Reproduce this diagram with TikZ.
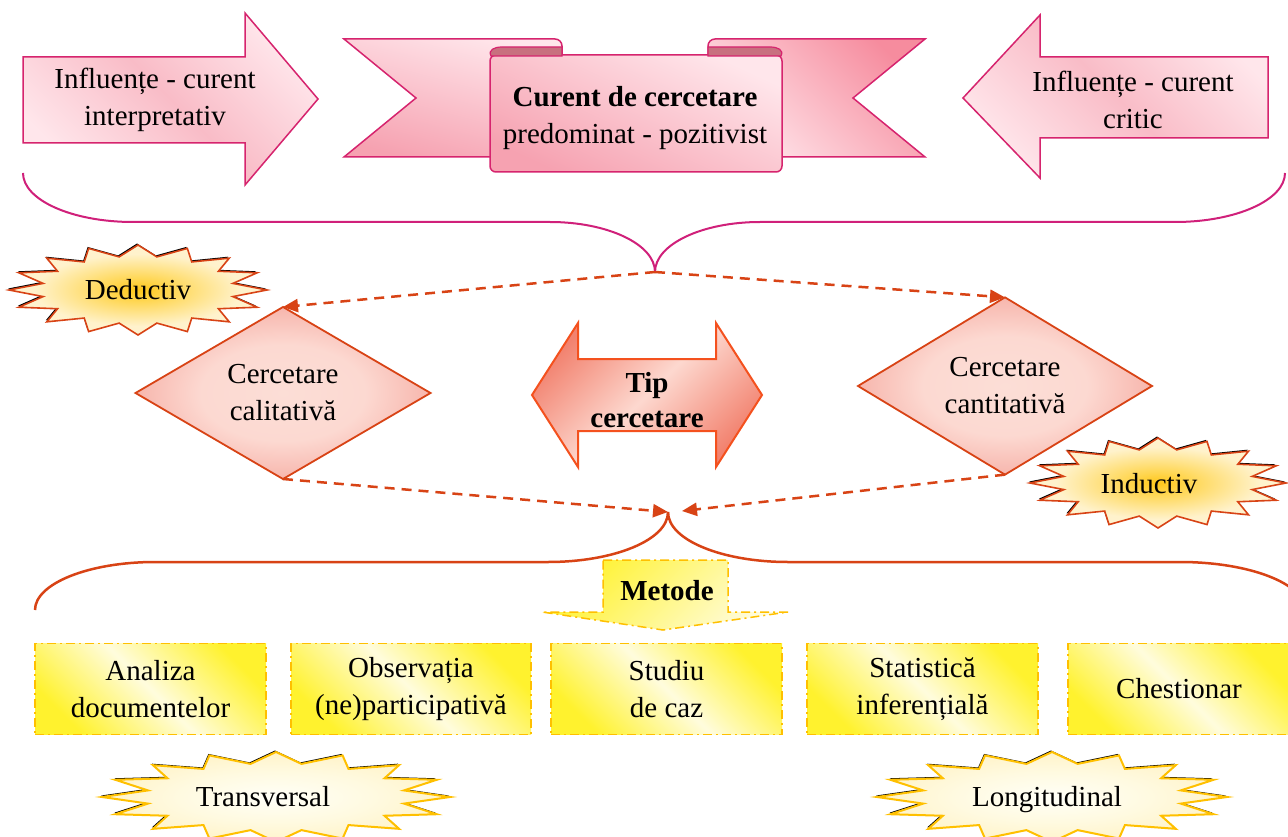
\documentclass[tikz,border=0pt]{standalone}
\usepackage{fontspec}
\setmainfont{Liberation Serif}
\usetikzlibrary{arrows.meta,shapes.geometric}

\definecolor{pinkB}{HTML}{D6246E}
\definecolor{pinkL}{HTML}{FFE6EB}
\definecolor{pinkM}{HTML}{F9BCC7}
\definecolor{pinkD}{HTML}{F6A2B1}
\definecolor{pinkDD}{HTML}{F68C9E}
\definecolor{rollc}{HTML}{C8707F}
\definecolor{braceP}{HTML}{D0207A}
\definecolor{redB}{HTML}{D84315}
\definecolor{orB}{HTML}{F4511E}
\definecolor{orD}{HTML}{F2826F}
\definecolor{salL}{HTML}{FDD8CF}
\definecolor{amber}{HTML}{FFC000}
\definecolor{yelS}{HTML}{FFF22E}
\definecolor{yelL}{HTML}{FFFCDD}

\pgfdeclareradialshading{diash}{\pgfpoint{0bp}{0bp}}{rgb(0bp)=(0.99,0.87,0.84); rgb(14bp)=(0.99,0.85,0.82); rgb(34bp)=(0.95,0.60,0.56); rgb(50bp)=(0.95,0.60,0.56)}
\pgfdeclareradialshading{starA}{\pgfpoint{0bp}{0bp}}{rgb(0bp)=(1,0.78,0.10); rgb(6bp)=(1,0.84,0.32); rgb(20bp)=(1,0.95,0.80); rgb(50bp)=(1,0.96,0.85)}
\pgfdeclareradialshading{starB}{\pgfpoint{0bp}{0bp}}{rgb(0bp)=(1,1,0.97); rgb(14bp)=(1,0.98,0.88); rgb(36bp)=(1,0.93,0.70); rgb(50bp)=(1,0.93,0.70)}

\newcommand\mkburst[5]{%
  \path[#5] plot[domain=0:31,samples=32]
    ({#1+#3*(0.875+0.125*cos(180*\x))*cos(11.25*\x)},
     {#2+#4*(0.875+0.125*cos(180*\x))*sin(11.25*\x)}) -- cycle;}

\begin{document}
\begin{tikzpicture}[x=1pt,y=-1pt,
  every node/.style={font=\fontsize{29pt}{37pt}\selectfont, inner sep=0pt, outer sep=0pt, align=center, text=black},
  pinkarrow/.style={draw=pinkB, line width=1.5pt, top color=pinkL, bottom color=pinkL, middle color=pinkM, shading angle=-45},
  tailL/.style={draw=pinkB, line width=1.5pt, top color=pinkL, bottom color=pinkD, shading angle=-15},
  tailR/.style={draw=pinkB, line width=1.5pt, top color=pinkDD, bottom color=pinkL, shading angle=-45},
  panel/.style={draw=pinkB, line width=1.5pt, top color=pinkL, bottom color=pinkD, shading angle=-25},
  roll/.style={draw=pinkB, line width=1.2pt, fill=rollc},
  bracetop/.style={draw=braceP, line width=2pt},
  bracebot/.style={draw=redB, line width=2.5pt},
  dasharrow/.style={draw=redB, line width=2.5pt, dash pattern=on 10pt off 7pt, -{Triangle[length=15pt,width=13pt]}},
  dia/.style={diamond, draw=redB, line width=1.8pt, shading=diash},
  tiparrow/.style={draw=orB, line width=2pt, top color=orD, bottom color=orD, middle color=salL, shading angle=45},
  ybox/.style={draw=amber, line width=1.5pt, dash pattern=on 9pt off 4pt on 2pt off 4pt, top color=yelS, bottom color=yelS, middle color=yelL, shading angle=-45, minimum height=91pt},
  ycall/.style={draw=amber, line width=1.5pt, dash pattern=on 9pt off 4pt on 2pt off 4pt, top color=yelS, bottom color=yelL, shading angle=45},
  burstA/.style={draw=redB, line width=1.6pt, shading=starA},
  burstB/.style={draw=amber, line width=2pt, shading=starB},
  burstshadow/.style={fill=black, shift={(-1,-1.5)}}
]
\path[use as bounding box, fill=white] (0,0) rectangle (1288,837);

% top side arrows
\path[pinkarrow] (23,57) -- (245,57) -- (245,13) -- (318,99) -- (245,185) -- (245,143) -- (23,143) -- cycle;
\node (infl) at (155,100) {Influențe - curent\\interpretativ};
\path[pinkarrow] (1268,57) -- (1040,57) -- (1040,15) -- (963,98) -- (1040,178) -- (1040,138) -- (1268,138) -- cycle;
\node (infr) at (1133,100) {Influențe - curent\\critic};

% ribbon
\path[tailL] (344,39) [rounded corners=7pt] -- (562,39) -- (562,80) [sharp corners] -- (562,157) -- (344,157) -- (416,98) -- cycle;
\path[tailR] (925,39) [rounded corners=7pt] -- (708,39) -- (708,80) [sharp corners] -- (708,157) -- (925,157) -- (853,98) -- cycle;
\path[panel] (490,55) [rounded corners=6pt] -- (782,55) -- (782,172) -- (490,172) -- cycle;
\path[roll] (491,56) .. controls (488,50) and (494,47) .. (502,47) -- (562,47) -- (562,56) -- cycle;
\path[roll] (781,56) .. controls (784,50) and (778,47) .. (770,47) -- (708,47) -- (708,56) -- cycle;
\node (curent) at (635,118) {\textbf{Curent de cercetare}\\predominat - pozitivist};

% top brace
\coordinate (toptip) at (655,272);
\path[bracetop] (23,173) .. controls (23,200) and (72,222) .. (133,222) -- (550,222) .. controls (608,222) and (655,244.4) .. (toptip);
\path[bracetop] (toptip) .. controls (655,244.4) and (702,222) .. (760,222) -- (1175,222) .. controls (1236,222) and (1285,200) .. (1285,173);

% diamonds
\node[dia, minimum width=295pt, minimum height=172pt] (cal) at (283,393) {Cercetare\\calitativă};
\node[dia, minimum width=294pt, minimum height=172pt] (cant) at (1005,386) {Cercetare\\cantitativă};

% double arrow
\path[tiparrow] (532,395) -- (578,323) -- (578,359) -- (716,359) -- (716,323) -- (762,395) -- (716,467) -- (716,431) -- (578,431) -- (578,467) -- cycle;
\node[font=\bfseries\fontsize{29pt}{35pt}\selectfont] (tip) at (647,400) {Tip\\cercetare};

% dashed connectors
\coordinate (bottip) at (668,512);
\coordinate (bottip2) at (682,511);
\draw[dasharrow] (toptip) -- (cal.north);
\draw[dasharrow] (toptip) -- (cant.north);
\draw[dasharrow] (cal.south) -- (bottip);
\draw[dasharrow] (cant.south) -- (bottip2);

% bursts deductiv / inductiv
\mkburst{138}{290}{129}{45}{burstshadow}
\mkburst{138}{290}{129}{45}{burstA}
\node (ded) at (138,290) {Deductiv};
\mkburst{1158}{483}{128}{45}{burstshadow}
\mkburst{1158}{483}{128}{45}{burstA}
\node (ind) at (1149,484) {Inductiv};

% lower brace
\path[bracebot] (35,610) .. controls (35,583.5) and (89,562) .. (155,562) -- (548,562) .. controls (614,562) and (668,540) .. (bottip);
\path[bracebot] (bottip) .. controls (668,540) and (722,562) .. (788,562) -- (1180,562) .. controls (1249,562) and (1305,583.5) .. (1305,610);

% Metode callout
\path[ycall] (603,560) -- (728,560) -- (728,612) -- (788,612) -- (663,630) -- (542,612) -- (603,612) -- cycle;
\node[font=\bfseries\fontsize{29pt}{37pt}\selectfont] (met) at (667,591) {Metode};

% method boxes
\node[ybox, minimum width=231pt] (b1) at (150.5,689) {Analiza\\documentelor};
\node[ybox, minimum width=240pt] (b2) at (411,689) {Observația\\(ne)participativă};
\node[ybox, minimum width=231pt] (b3) at (666.5,689) {Studiu\\de caz};
\node[ybox, minimum width=231pt] (b4) at (922.5,689) {Statistică\\inferențială};
\node[ybox, minimum width=222pt] (b5) at (1179,689) {Chestionar};

% bottom bursts
\mkburst{276}{797}{174}{45}{burstshadow}
\mkburst{276}{797}{174}{45}{burstB}
\node (trans) at (263,797) {Transversal};
\mkburst{1052}{797}{175}{45}{burstshadow}
\mkburst{1052}{797}{175}{45}{burstB}
\node (longi) at (1047,800) {Longitudinal};
\end{tikzpicture}
\end{document}
